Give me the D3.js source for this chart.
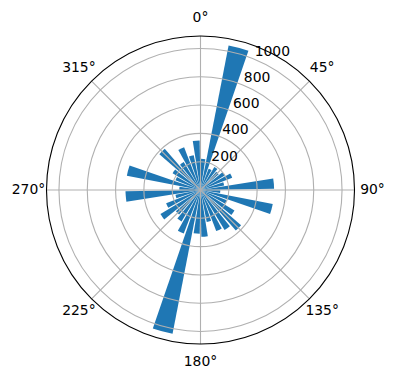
<!DOCTYPE html>
<html>
<head>
<meta charset="utf-8">
<script src="https://cdn.jsdelivr.net/npm/d3@7"></script>
<style>
  body { margin: 0; background: #fff; }
  text { font-family: "DejaVu Sans", sans-serif; font-size: 13.9px; fill: #000; }
</style>
</head>
<body>
<div id="chart"></div>
<script>
// direcciones de las barras (grados, sentido horario desde el norte) y alturas
const angles = [5, 15, 25, 35, 45, 55, 65, 75, 85, 95, 105, 115, 125, 135, 145, 155, 165, 175,
                185, 195, 205, 215, 225, 235, 245, 255, 265, 275, 285, 295, 305, 315, 325, 335, 345, 355];
const values = [220, 1040, 160, 190, 170, 200, 240, 170, 520, 140, 520, 200, 280, 380, 330, 310, 230, 330,
                310, 1035, 330, 260, 230, 330, 260, 180, 530, 150, 530, 190, 230, 385, 230, 323, 250, 350];
const barWidth = 8; // grados
const rTicks = [200, 400, 600, 800, 1000];
const thetaTicks = [0, 45, 90, 135, 180, 225, 270, 315];
const rMax = 1088;

const width = 396, height = 380;
const cx = 200.5, cy = 190, R = 154;

const svg = d3.select("#chart").append("svg")
    .attr("width", width)
    .attr("height", height);

const g = svg.append("g").attr("transform", `translate(${cx},${cy})`);

const r = d3.scaleLinear().domain([0, rMax]).range([0, R]);
const theta = d3.scaleLinear().domain([0, 360]).range([0, 2 * Math.PI]);

// barras
const arc = d3.arc()
    .innerRadius(0)
    .outerRadius(d => r(d.v))
    .startAngle(d => theta(d.a - barWidth / 2))
    .endAngle(d => theta(d.a + barWidth / 2));

g.selectAll(".bar")
    .data(angles.map((a, i) => ({ a: a, v: values[i] })))
    .enter().append("path")
    .attr("class", "bar")
    .attr("d", arc)
    .attr("fill", "#1f77b4");

// grid (encima de las barras, como matplotlib)
g.selectAll(".rgrid")
    .data(rTicks)
    .enter().append("circle")
    .attr("r", d => r(d))
    .attr("fill", "none")
    .attr("stroke", "#b0b0b0")
    .attr("stroke-width", 1.1);

g.selectAll(".tgrid")
    .data(thetaTicks)
    .enter().append("line")
    .attr("x1", 0).attr("y1", 0)
    .attr("x2", d => R * Math.sin(theta(d)))
    .attr("y2", d => -R * Math.cos(theta(d)))
    .attr("stroke", "#b0b0b0")
    .attr("stroke-width", 1.1);

// borde exterior
g.append("circle")
    .attr("r", R)
    .attr("fill", "none")
    .attr("stroke", "#000")
    .attr("stroke-width", 1.1);

// etiquetas radiales a 22.5° (abajo-izquierda anclado al punto)
const rl = theta(22.5);
g.selectAll(".rlabel")
    .data(rTicks)
    .enter().append("text")
    .attr("x", d => r(d) * Math.sin(rl))
    .attr("y", d => -r(d) * Math.cos(rl))
    .attr("dy", "-0.24em")
    .attr("text-anchor", "start")
    .text(d => d);

// etiquetas angulares, centradas a R + pad
const labelR = R + 18;
g.selectAll(".tlabel")
    .data(thetaTicks)
    .enter().append("text")
    .attr("x", d => labelR * Math.sin(theta(d)))
    .attr("y", d => -labelR * Math.cos(theta(d)))
    .attr("text-anchor", "middle")
    .attr("dy", "0.26em")
    .text(d => d + "°");
</script>
</body>
</html>
